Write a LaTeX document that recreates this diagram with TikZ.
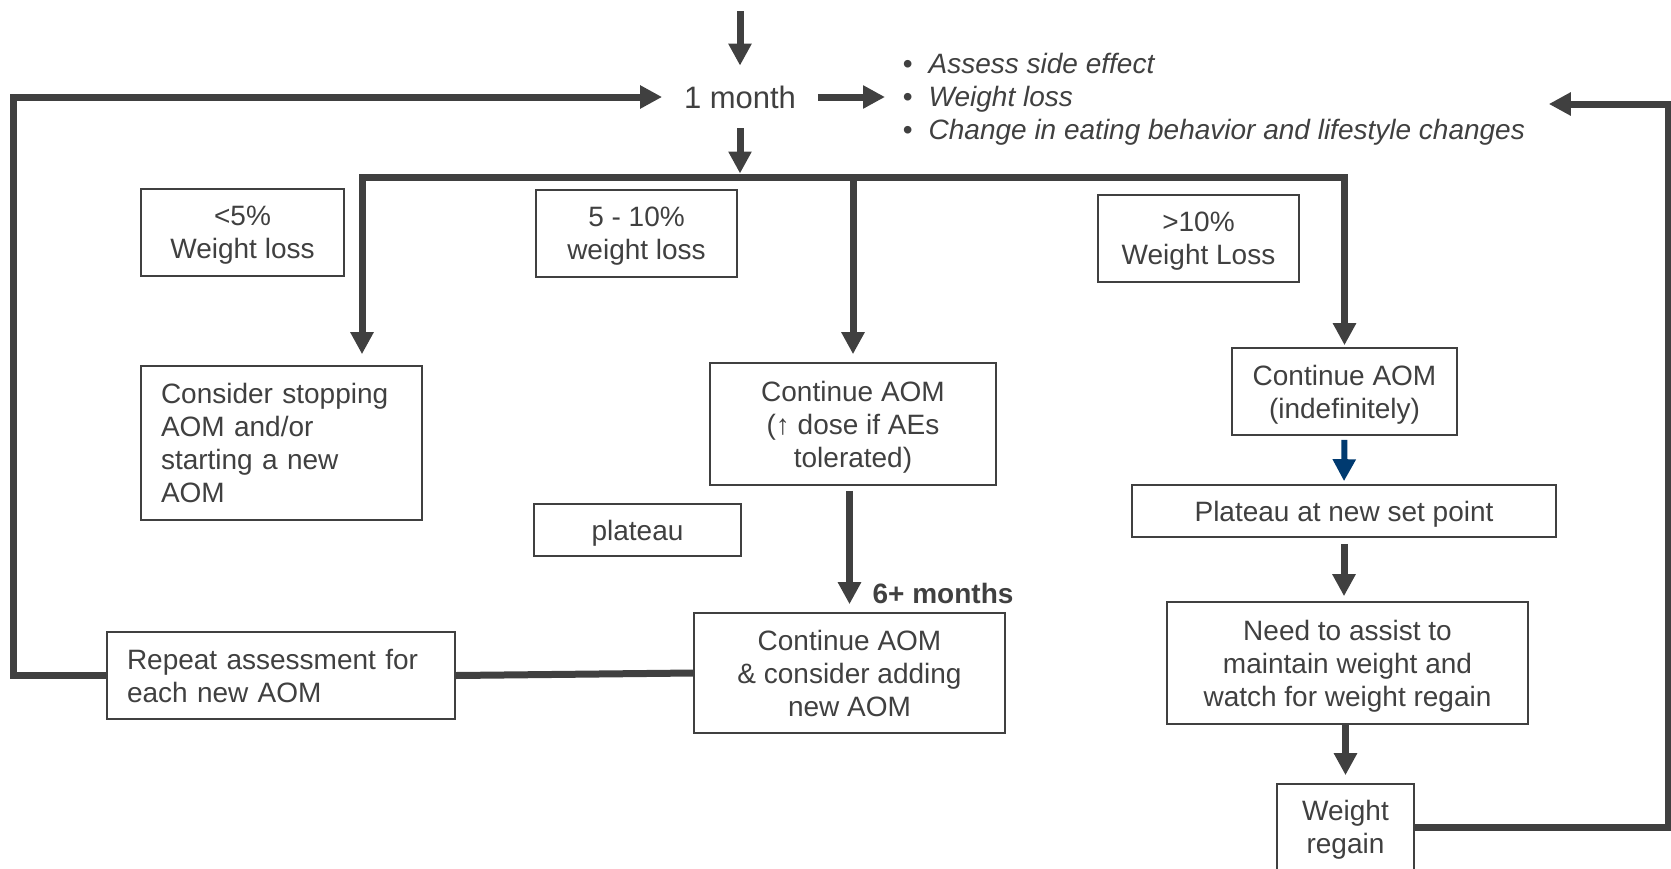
\documentclass[tikz,border=0pt]{standalone}
\usepackage{fontspec}
\setmainfont{Liberation Sans}
\usepackage{tikz}
\usetikzlibrary{arrows.meta}
\definecolor{ink}{HTML}{404040}
\definecolor{navy}{HTML}{003A70}
\newcommand\flowfont{\fontsize{14}{16.5}\selectfont}

\begin{document}
\begin{tikzpicture}[x=0.5pt, y=-0.5pt, >={Triangle[length=11pt,width=11pt]},
  box/.style={draw=ink, line width=0.8pt, fill=white, text=ink, font=\flowfont, align=center, inner sep=0pt},
  cbox/.style={box, text depth=0pt},
  flow/.style={draw=ink, line width=3.5pt}]
\useasboundingbox (0,0) rectangle (1671,868);

\node[text=ink, font=\fontsize{15.5}{18}\selectfont, minimum width=77.5pt, minimum height=31pt, inner sep=0pt] (month) at (740,97) {1 month};
\node[anchor=west, text=ink, font=\flowfont, align=left, inner xsep=8.75pt, inner ysep=0pt] (notes) at (885,99) {•\hspace{8pt}\textit{Assess side effect}\\•\hspace{8pt}\textit{Weight loss}\\•\hspace{8pt}\textit{Change in eating behavior and lifestyle changes}};

\node[cbox, minimum width=101.5pt, minimum height=43.5pt] (low) at (242.5,232.5) {<5\%\\Weight loss};
\node[cbox, minimum width=100.5pt, minimum height=43.5pt] (mid) at (636.5,233.5) {5 - 10\%\\weight loss};
\node[cbox, minimum width=100.5pt, minimum height=43.5pt] (high) at (1198.5,238.5) {>10\%\\Weight Loss};

\node[box, align=left, text width=120.5pt, inner xsep=10pt, minimum height=77pt] (stop) at (281.5,443) {Consider stopping\\AOM and/or\\starting a new\\AOM};
\node[cbox, minimum width=143pt, minimum height=61pt] (up) at (853,424) {Continue AOM\\(↑ dose if AEs\\tolerated)};
\node[cbox, minimum width=103.5pt, minimum height=26pt] (plat) at (637.5,530) {plateau};
\node[cbox, minimum width=155.5pt, minimum height=60pt] (cont6) at (849.5,673) {Continue AOM\\\& consider adding\\new AOM};
\node[box, align=left, text width=154pt, inner xsep=10pt, minimum height=43.5pt] (repeat) at (281,675.5) {Repeat assessment for\\each new AOM};

\node[cbox, minimum width=112.5pt, minimum height=43.5pt] (indef) at (1344.5,391.5) {Continue AOM\\(indefinitely)};
\node[cbox, minimum width=212pt, minimum height=26pt] (setpt) at (1344,511) {Plateau at new set point};
\node[cbox, minimum width=180.5pt, minimum height=61pt] (assist) at (1347.5,663) {Need to assist to\\maintain weight and\\watch for weight regain};
\node[cbox, minimum width=68.5pt, minimum height=43pt] (regain) at (1345.5,827) {Weight\\regain};

\coordinate (entry) at (740,11);
\coordinate (split) at (740,177);
\coordinate (barL) at (362,177);
\coordinate (loopL) at (13,97);
\coordinate (loopR) at (1668,104);

\draw[flow,->] (entry) -- (month.north);
\draw[flow,->] (month.east) -- (notes.west |- month.east);
\draw[flow,->, shorten >=1.75pt] (month.south) -- (split);
\draw[flow,->, shorten >=5.5pt] (split) -| (barL |- stop.north);
\draw[flow,->, shorten >=4pt] (split -| up.north) -- (up.north);
\draw[flow,->, shorten >=1pt] (split) -| (indef.north);

\draw[flow,->, draw=navy, line width=3pt, shorten <=2pt, shorten >=1.5pt] (indef.south) -- (setpt.north);
\draw[flow,->, shorten <=3pt, shorten >=2.5pt] (setpt.south) -- (setpt.south |- assist.north);
\draw[flow,->, shorten >=4pt] (regain.north |- assist.south) -- (regain.north);

\draw[flow,->, shorten <=2.5pt, shorten >=4pt] (cont6.north |- up.south) -- node[pos=0.85, anchor=west, xshift=6.5pt, text=ink, font=\flowfont\bfseries] {6+ months} (cont6.north);
\draw[flow] (cont6.west) -- (repeat.east);
\draw[flow,->] (repeat.west) -| (loopL) -- (month.west);
\draw[flow,->, shorten >=3pt] (regain.east) -| (loopR) -- (loopR -| notes.east);
\end{tikzpicture}
\end{document}
